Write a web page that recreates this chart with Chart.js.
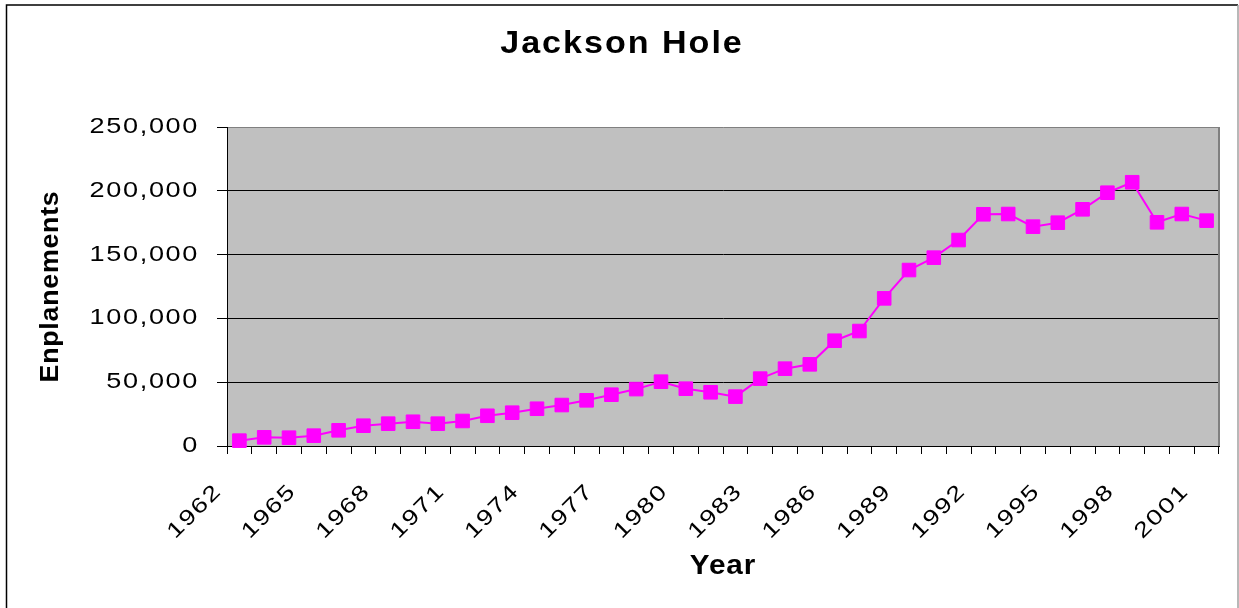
<!DOCTYPE html>
<html>
<head>
<meta charset="utf-8">
<script src="https://cdn.jsdelivr.net/npm/chart.js@4"></script>
<style>
  html, body { margin: 0; padding: 0; background: #fff; }
  canvas { display: block; }
</style>
</head>
<body>
<canvas id="c" width="1239" height="608"></canvas>
<script>
const FONT = '"Liberation Sans", Arial, sans-serif';

// Years on the category axis
const years = [
  '1962', '1963', '1964', '1965', '1966', '1967', '1968', '1969', '1970', '1971',
  '1972', '1973', '1974', '1975', '1976', '1977', '1978', '1979', '1980', '1981',
  '1982', '1983', '1984', '1985', '1986', '1987', '1988', '1989', '1990', '1991',
  '1992', '1993', '1994', '1995', '1996', '1997', '1998', '1999', '2000', '2001'
];

// Annual enplanements at Jackson Hole airport
const enplanements = [
  4200, 6800, 6500, 8100, 12300, 15900, 17500, 19000, 17500, 19600,
  23700, 26100, 29200, 32100, 35800, 40200, 44600, 50400, 44900, 42100,
  38700, 52800, 60600, 64000, 82500, 90100, 115700, 137900, 147600, 161400,
  181600, 181800, 171900, 175000, 185500, 198500, 206700, 175300, 181800, 176600
];

// Years that get a printed label on the x axis
const labeledYears = ['1962', '1965', '1968', '1971', '1974', '1977', '1980',
                      '1983', '1986', '1989', '1992', '1995', '1998', '2001'];

// Value axis ticks
const yTickValues = [0, 50000, 100000, 150000, 200000, 250000];

// Wrap a drawing method so its text comes out horizontally widened
// (scaled around each text anchor) and with extra letter spacing.
function wideText(target, method, sx, spacing) {
  const key = '_wide_' + method;
  if (target[key]) return;
  target[key] = true;
  const orig = target[method];
  target[method] = function (...args) {
    const ctx = this.ctx;
    const fill = CanvasRenderingContext2D.prototype.fillText;
    ctx.save();
    ctx.letterSpacing = spacing;
    ctx.fillText = function (text, x, y, maxWidth) {
      this.save();
      this.translate(x, y);
      this.scale(sx, 1);
      if (maxWidth !== undefined) fill.call(this, text, 0, 0, maxWidth / sx);
      else fill.call(this, text, 0, 0);
      this.restore();
    };
    try {
      return orig.apply(this, args);
    } finally {
      delete ctx.fillText;
      ctx.restore();
    }
  };
}

// Page background, outer frame and grey plot area
const framePlugin = {
  id: 'frame',
  beforeDraw(chart) {
    const { ctx, chartArea: a, width, height } = chart;
    if (chart.titleBlock) wideText(chart.titleBlock, 'draw', 1.1, '1.8px');
    ctx.save();
    ctx.fillStyle = '#ffffff';
    ctx.fillRect(0, 0, width, height);
    ctx.fillStyle = '#c0c0c0';
    ctx.fillRect(a.left, a.top, a.right - a.left, a.bottom - a.top);

    ctx.lineWidth = 1.5;
    ctx.strokeStyle = '#000000';
    ctx.beginPath();
    ctx.moveTo(6.5, height);
    ctx.lineTo(6.5, 5);
    ctx.lineTo(1238, 5);
    ctx.stroke();
    ctx.strokeStyle = '#a0a0a0';
    ctx.beginPath();
    ctx.moveTo(1238, 5);
    ctx.lineTo(1238, height);
    ctx.stroke();
    ctx.restore();
  },
  beforeDatasetsDraw(chart) {
    const { ctx, chartArea: a } = chart;
    ctx.save();
    ctx.strokeStyle = '#808080';
    ctx.lineWidth = 2;
    ctx.beginPath();
    ctx.moveTo(a.right, a.top);
    ctx.lineTo(a.right, a.bottom);
    ctx.stroke();
    ctx.restore();
  }
};

new Chart(document.getElementById('c'), {
  type: 'line',
  data: {
    labels: years,
    datasets: [{
      data: enplanements,
      yAxisID: 'y',
      borderColor: '#ff00ff',
      backgroundColor: '#ff00ff',
      borderWidth: 2,
      tension: 0,
      fill: false,
      pointStyle: 'rect',
      pointRadius: 9.6,
      pointBorderWidth: 1,
      pointBackgroundColor: '#ff00ff',
      pointBorderColor: '#ff00ff',
      clip: false
    }]
  },
  options: {
    responsive: false,
    animation: false,
    devicePixelRatio: 1,
    layout: { padding: { left: 5, right: 0, top: 0, bottom: 0 } },
    plugins: {
      legend: { display: false },
      tooltip: { enabled: false },
      title: {
        display: true,
        text: 'Jackson Hole',
        color: '#000',
        font: { family: FONT, size: 31, weight: 'bold' },
        padding: { top: 26.1, bottom: 63.7 }
      }
    },
    scales: {
      x: {
        type: 'category',
        offset: true,
        grid: {
          display: true,
          offset: true,
          drawOnChartArea: false,
          drawTicks: true,
          tickLength: 8,
          tickColor: '#000',
          lineWidth: 1
        },
        border: { display: true, color: '#000', width: 1 },
        ticks: {
          autoSkip: false,
          minRotation: 45,
          maxRotation: 45,
          padding: 25,
          labelOffset: -21,
          color: '#000',
          font: { family: FONT, size: 21.5 },
          callback(value) {
            const label = this.getLabelForValue(value);
            return labeledYears.includes(label) ? label : '';
          }
        },
        title: {
          display: true,
          text: 'Year',
          color: '#000',
          font: { family: FONT, size: 27, weight: 'bold' },
          padding: { top: 0, bottom: 25.1 }
        },
        afterFit(scale) {
          scale.height = 162;
          scale.paddingLeft = 0;
          scale.paddingRight = 0;
          wideText(scale, 'drawLabels', 1.26, '1.3px');
          wideText(scale, 'drawTitle', 1.1, '0.8px');
        }
      },
      y: {
        min: 0,
        max: 250000,
        afterBuildTicks(scale) {
          scale.ticks = yTickValues.map(v => ({ value: v }));
        },
        grid: {
          color: (c) => (c.tick && c.tick.value === 250000 ? '#808080' : '#000000'),
          tickColor: '#000',
          tickLength: 10,
          lineWidth: 1
        },
        border: { display: true, color: '#000', width: 1 },
        ticks: {
          padding: 18,
          color: '#000',
          font: { family: FONT, size: 21.5 },
          callback: (v) => Number(v).toLocaleString('en-US')
        },
        title: {
          display: true,
          text: 'Enplanements',
          color: '#000',
          font: { family: FONT, size: 25.5, weight: 'bold' },
          padding: { top: 30.6, bottom: 0 }
        },
        afterFit(scale) {
          scale.width = 222;
          wideText(scale, 'drawLabels', 1.26, '1.3px');
          wideText(scale, 'drawTitle', 1.05, '0.7px');
        }
      },
      y2: {
        position: 'right',
        display: true,
        grid: { display: false },
        border: { display: false },
        ticks: { display: false },
        title: { display: false },
        afterFit(scale) {
          scale.width = 20;
        }
      }
    }
  },
  plugins: [framePlugin]
});
</script>
</body>
</html>
